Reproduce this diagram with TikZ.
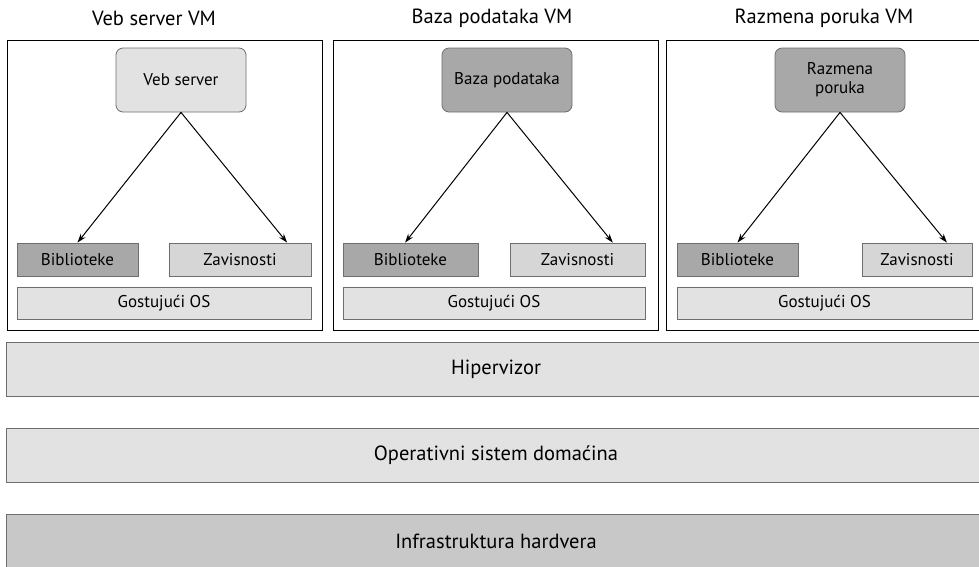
\documentclass[tikz,border=0pt]{standalone}
\usepackage{fontspec}
\setmainfont{PT Sans}
\usepackage{tikz}
\usetikzlibrary{arrows.meta, positioning, calc}
\definecolor{paleGray}{RGB}{226,226,226}
\definecolor{midGray}{RGB}{214,214,214}
\definecolor{darkGray}{RGB}{168,168,168}
\definecolor{hwGray}{RGB}{200,200,200}
\definecolor{edgeGray}{RGB}{110,110,110}

\begin{document}
\begin{tikzpicture}[
    x=1pt, y=-1pt,
    % Node styles
    vmtitle/.style={font=\fontsize{20.5}{24}\selectfont},
    vmbox/.style={rectangle, draw=black, line width=1pt, minimum width=315pt, minimum height=290pt},
    app/.style={rectangle, draw=edgeGray, rounded corners=7pt, line width=0.8pt, minimum width=130pt, minimum height=64pt, align=center, font=\fontsize{17}{19}\selectfont},
    part/.style={rectangle, draw=edgeGray, line width=0.8pt, minimum height=33pt, font=\fontsize{17}{19}\selectfont},
    layer/.style={rectangle, draw=edgeGray, line width=0.8pt, minimum width=980pt, minimum height=54pt, fill=paleGray, font=\fontsize{20.5}{24}\selectfont},
    arrow/.style={-{Stealth[length=9pt, width=6pt]}, line width=1pt},
]
\useasboundingbox (0,0) rectangle (979,566);

% ============================================================================
% VIRTUAL MACHINES
% ============================================================================
\node[vmtitle] (t1) at (154, 18) {Veb server VM};
\node[vmtitle] (t2) at (492, 18) {Baza podataka VM};
\node[vmtitle] (t3) at (824, 18) {Razmena poruka VM};

\node[vmbox] (vm1) at (164.5, 185) {};
\node[vmbox, minimum width=325pt] (vm2) at (495.5, 185) {};
\node[vmbox, minimum width=320pt] (vm3) at (826, 185) {};

% Applications
\node[app, fill=paleGray] (web) at (181, 80) {Veb server};
\node[app, fill=darkGray] (db) at (507, 80) {Baza podataka};
\node[app, fill=darkGray] (msg) at (840, 80) {Razmena\\poruka};

% Libraries and dependencies
\node[part, fill=darkGray, minimum width=121pt] (lib1) at (77.5, 259.5) {Biblioteke};
\node[part, fill=midGray, minimum width=142pt] (dep1) at (240, 259.5) {Zavisnosti};
\node[part, fill=darkGray, minimum width=135pt] (lib2) at (410.5, 259.5) {Biblioteke};
\node[part, fill=midGray, minimum width=135pt] (dep2) at (577.5, 259.5) {Zavisnosti};
\node[part, fill=darkGray, minimum width=121pt] (lib3) at (737.5, 259.5) {Biblioteke};
\node[part, fill=midGray, minimum width=110pt] (dep3) at (917, 259.5) {Zavisnosti};

% Guest OS
\node[part, fill=paleGray, minimum width=294pt, minimum height=32pt] (os1) at (164, 303) {Gostujući OS};
\node[part, fill=paleGray, minimum width=302pt, minimum height=32pt] (os2) at (494, 303) {Gostujući OS};
\node[part, fill=paleGray, minimum width=295pt, minimum height=32pt] (os3) at (824.5, 303) {Gostujući OS};

% Arrows
\draw[arrow] (web.south) -- (lib1.north);
\draw[arrow] (web.south) -- ($(dep1.north west)!0.83!(dep1.north east)$);
\draw[arrow] (db.south) -- ($(lib2.north west)!0.46!(lib2.north east)$);
\draw[arrow] (db.south) -- ($(dep2.north west)!0.76!(dep2.north east)$);
\draw[arrow] (msg.south) -- (lib3.north);
\draw[arrow] (msg.south) -- ($(dep3.north west)!0.77!(dep3.north east)$);

% ============================================================================
% LAYERS
% ============================================================================
\node[layer] (hyp) at (496, 369) {Hipervizor};
\node[layer] (host) at (496, 455.5) {Operativni sistem domaćina};
\node[layer, fill=hwGray] (hw) at (496, 541) {Infrastruktura hardvera};

\end{tikzpicture}
\end{document}
